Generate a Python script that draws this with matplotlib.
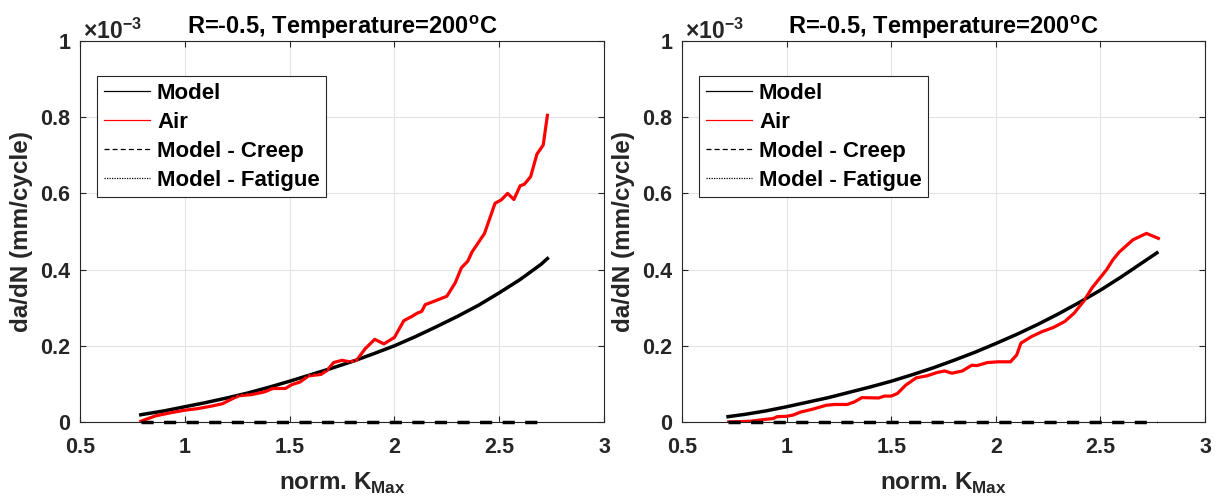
import matplotlib.pyplot as plt
from matplotlib.lines import Line2D
from matplotlib.ticker import FuncFormatter
import numpy as np

plt.rcParams['font.family'] = ['Liberation Sans', 'DejaVu Sans']
plt.rcParams['font.weight'] = 'bold'
plt.rcParams['mathtext.fontset'] = 'custom'
plt.rcParams['mathtext.rm'] = 'Liberation Sans'
plt.rcParams['mathtext.bf'] = 'Liberation Sans:bold'

# da/dN in units of 1e-3 mm/cycle
# left panel
model_x_l = [0.79, 0.8, 0.9, 1.0, 1.1, 1.2, 1.3, 1.4, 1.5, 1.6, 1.7, 1.8, 1.9, 2.0,
             2.1, 2.2, 2.3, 2.4, 2.5, 2.6, 2.7, 2.73]
model_y_l = [0.019, 0.020, 0.029, 0.040, 0.051, 0.063, 0.076, 0.091, 0.107, 0.124,
             0.141, 0.159, 0.179, 0.200, 0.224, 0.250, 0.277, 0.306, 0.339, 0.374,
             0.414, 0.429]

air_x_l = [0.79, 0.86, 0.93, 1.0, 1.06, 1.13, 1.18, 1.23, 1.26, 1.32, 1.38, 1.42, 1.48,
           1.51, 1.55, 1.59, 1.65, 1.68, 1.71, 1.75, 1.785, 1.82, 1.86, 1.906, 1.95,
           2.0, 2.045, 2.083, 2.11, 2.13, 2.147, 2.19, 2.25, 2.29, 2.32, 2.35, 2.37,
           2.43, 2.48, 2.51, 2.54, 2.57, 2.60, 2.62, 2.65, 2.68, 2.71, 2.73]
air_y_l = [0.002, 0.016, 0.024, 0.031, 0.035, 0.042, 0.048, 0.062, 0.069, 0.072, 0.079,
           0.088, 0.088, 0.098, 0.105, 0.121, 0.125, 0.136, 0.156, 0.162, 0.158, 0.162,
           0.192, 0.217, 0.205, 0.222, 0.266, 0.277, 0.286, 0.290, 0.308, 0.317, 0.330,
           0.365, 0.405, 0.422, 0.446, 0.495, 0.574, 0.583, 0.600, 0.584, 0.620, 0.624,
           0.644, 0.703, 0.727, 0.805]

# right panel
model_x_r = [0.72, 0.8, 0.9, 1.0, 1.1, 1.2, 1.3, 1.4, 1.5, 1.6, 1.7, 1.8, 1.9, 2.0,
             2.1, 2.2, 2.3, 2.4, 2.5, 2.6, 2.7, 2.77]
model_y_r = [0.014, 0.020, 0.029, 0.040, 0.052, 0.064, 0.078, 0.092, 0.107, 0.124,
             0.142, 0.162, 0.183, 0.206, 0.230, 0.256, 0.284, 0.314, 0.346, 0.381,
             0.418, 0.444]

air_x_r = [0.723, 0.825, 0.9, 0.935, 0.955, 1.0, 1.03, 1.066, 1.12, 1.19, 1.23, 1.29,
           1.325, 1.36, 1.44, 1.467, 1.5, 1.53, 1.57, 1.62, 1.67, 1.72, 1.755, 1.79,
           1.84, 1.885, 1.91, 1.96, 2.01, 2.07, 2.1, 2.12, 2.17, 2.22, 2.275, 2.33,
           2.375, 2.42, 2.46, 2.53, 2.56, 2.59, 2.655, 2.72, 2.777]
air_y_r = [0.0, 0.002, 0.007, 0.009, 0.014, 0.015, 0.018, 0.026, 0.033, 0.044, 0.046,
           0.046, 0.053, 0.064, 0.063, 0.068, 0.068, 0.075, 0.097, 0.116, 0.121, 0.130,
           0.134, 0.128, 0.134, 0.149, 0.148, 0.156, 0.158, 0.158, 0.176, 0.207, 0.224,
           0.237, 0.248, 0.264, 0.286, 0.317, 0.352, 0.400, 0.426, 0.446, 0.478, 0.495,
           0.482]

panels = [(model_x_l, model_y_l, air_x_l, air_y_l),
          (model_x_r, model_y_r, air_x_r, air_y_r)]
positions = [[80 / 1220, 82 / 504, 524 / 1220, 381 / 504],
             [682 / 1220, 82 / 504, 523 / 1220, 381 / 504]]

dark = '#262626'
fig = plt.figure(figsize=(12.2, 5.04), dpi=100)

for (mx, my, ax_x, ay), pos in zip(panels, positions):
    ax = fig.add_axes(pos)
    mx = np.array(mx)
    my = np.array(my) * 1e-3
    creep = np.zeros_like(mx)
    fatigue = my - creep

    ax.plot(mx, my, color='k', lw=2.5)
    ax.plot(ax_x, np.array(ay) * 1e-3, color='r', lw=2.3)
    ax.plot(mx, creep, color='k', lw=2.5, ls=(0, (3.5, 3)), clip_on=False, zorder=5)
    ax.plot(mx, fatigue, color='k', lw=1.2, ls=(0, (1, 2)))

    ax.set_xlim(0.5, 3)
    ax.set_ylim(0, 1e-3)
    ax.set_xticks([0.5, 1, 1.5, 2, 2.5, 3])
    ax.set_yticks(np.arange(0, 1.01e-3, 0.2e-3))
    ax.xaxis.set_major_formatter(FuncFormatter(lambda v, p: '%g' % v))
    ax.yaxis.set_major_formatter(FuncFormatter(lambda v, p: '%g' % round(v * 1e3, 3)))
    ax.tick_params(direction='in', length=4, width=0.8, colors=dark,
                   labelsize=15.5, top=True, right=True)
    ax.tick_params(axis='x', pad=11)
    ax.tick_params(axis='y', pad=7)
    for lab in ax.get_xticklabels() + ax.get_yticklabels():
        lab.set_fontweight('bold')
    for sp in ax.spines.values():
        sp.set_color(dark)
        sp.set_linewidth(0.8)
    ax.grid(True, color='#e3e3e3', lw=0.8)
    ax.set_axisbelow(True)

    ax.text(0.005, 0.993, r'$\times10^{-3}$', transform=ax.transAxes,
            fontsize=16.5, color=dark, ha='left', va='bottom', fontweight='normal')
    ax.set_title(r'R=-0.5, Temperature=200$^{\mathbf{o}}$C', fontsize=17,
                 fontweight='bold', pad=5)
    ax.set_xlabel(r'norm. K$_{\mathbf{Max}}$', fontsize=17.5, fontweight='bold',
                  color=dark, labelpad=9)
    ax.set_ylabel('da/dN (mm/cycle)', fontsize=17.5, fontweight='bold',
                  color=dark, labelpad=5)

    handles = [Line2D([], [], color='k', lw=0.9),
               Line2D([], [], color='r', lw=0.9),
               Line2D([], [], color='k', lw=0.9, ls=(0, (4, 2.5))),
               Line2D([], [], color='k', lw=0.9, ls=(0, (1, 1)))]
    leg = ax.legend(handles, ['Model', 'Air', 'Model - Creep', 'Model - Fatigue'],
                    loc='upper left', bbox_to_anchor=(17 / 524, 1 - 35 / 381),
                    borderaxespad=0, fancybox=False, framealpha=1,
                    prop={'size': 16, 'weight': 'bold'}, handlelength=2.1,
                    handletextpad=0.3, labelspacing=0.36, borderpad=0.3)
    leg.get_frame().set_edgecolor(dark)
    leg.get_frame().set_linewidth(0.8)

fig.savefig('out.png', dpi=100)
